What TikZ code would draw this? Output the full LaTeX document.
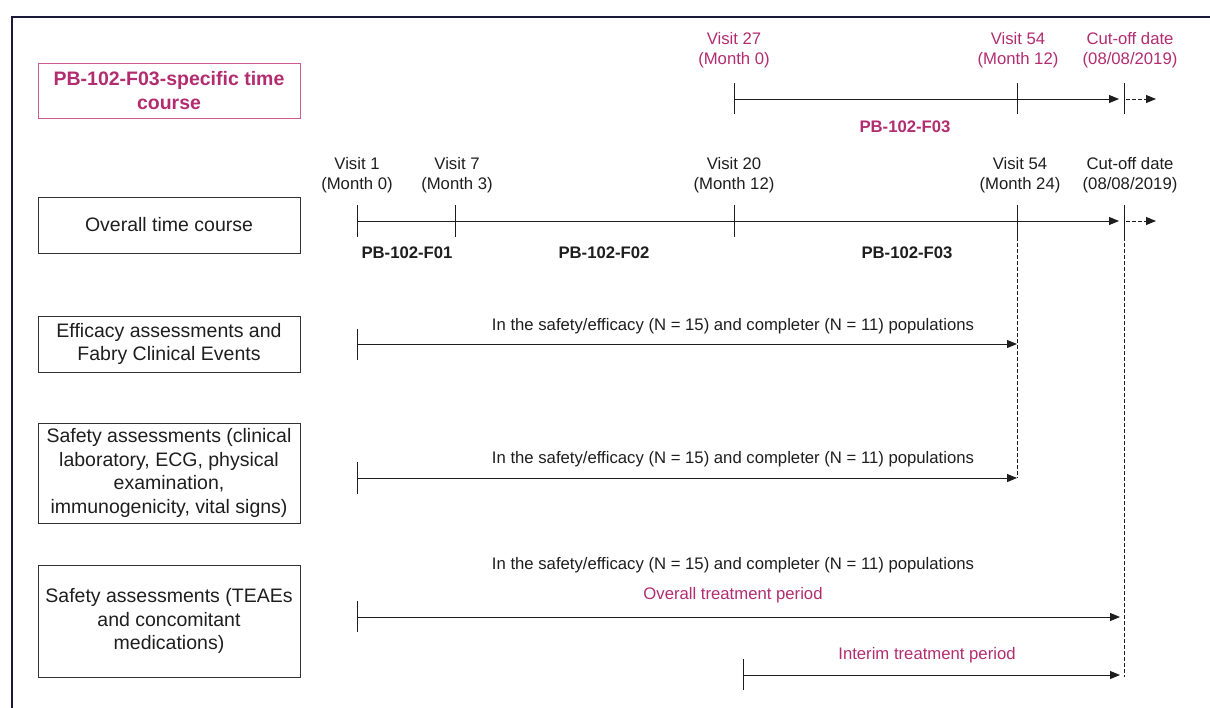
\documentclass[tikz,border=0pt]{standalone}
\usepackage{fontspec}
\setmainfont{Liberation Sans}
\usetikzlibrary{arrows.meta}
\definecolor{pinktxt}{RGB}{178,44,112}
\definecolor{pinkbox}{RGB}{205,90,145}
\definecolor{navy}{RGB}{25,25,60}
\definecolor{txt}{RGB}{30,30,30}
\definecolor{boxc}{RGB}{50,50,50}
\begin{document}
\begin{tikzpicture}[x=1pt,y=-1pt,
  lab/.style={font=\fontsize{16.7}{20}\selectfont, text=txt, align=center, inner sep=0},
  plab/.style={lab, text=pinktxt},
  blab/.style={lab, font=\fontsize{16.7}{20}\selectfont\bfseries},
  pblab/.style={blab, text=pinktxt},
  box/.style={draw=boxc, line width=1pt, minimum width=262pt, inner sep=0, align=center, font=\fontsize{19.5}{23.6}\selectfont, text=txt},
  ax/.style={line width=0.95pt, draw=txt},
  arr/.style={ax, -{Triangle[length=10pt,width=8pt]}},
  dsh/.style={ax, dash pattern=on 3.5pt off 2.5pt},
]
\useasboundingbox (0,0) rectangle (1210,707);
\draw[navy, line width=2pt] (12,712) -- (12,17) -- (1215,17);

% boxes
\node[box, draw=pinkbox, text=pinktxt, font=\fontsize{19.5}{23.6}\selectfont\bfseries, minimum height=55pt] (pbox) at (169,90.5) {PB-102-F03-specific time\\course};
\node[box, minimum height=56pt] (bover) at (169,225) {Overall time course};
\node[box, minimum height=56pt] (beff) at (169,344) {Efficacy assessments and\\Fabry Clinical Events};
\node[box, minimum height=100pt] (bsaf) at (169,473) {Safety assessments (clinical\\laboratory, ECG, physical\\examination,\\immunogenicity, vital signs)};
\node[box, minimum height=112pt] (bteae) at (169,621) {Safety assessments (TEAEs\\and concomitant\\medications)};

% top timeline
\coordinate (t27) at (734,99);
\coordinate (t54) at (1017,99);
\coordinate (tcut) at (1124,99);
\coordinate (tend) at (1156,99);
\draw[ax] (734,83) -- (734,114);
\draw[ax] (1017,83) -- (1017,114);
\draw[ax] (1124,83) -- (1124,114);
\draw[arr] (t27) -- ([xshift=-5pt]tcut);
\draw[dsh, -{Triangle[length=10pt,width=8pt]}] ([xshift=2pt]tcut) -- (tend);
\node[plab] (l27) at (734,50) {Visit 27\\(Month 0)};
\node[plab] (l54t) at (1018,50) {Visit 54\\(Month 12)};
\node[plab] (lcutt) at (1130,50) {Cut-off date\\(08/08/2019)};
\node[pblab] (f03t) at (905,127) {PB-102-F03};

% overall timeline
\coordinate (o1) at (357,221);
\coordinate (o7) at (455,221);
\coordinate (o20) at (734,221);
\coordinate (o54) at (1017,221);
\coordinate (ocut) at (1124,221);
\coordinate (oend) at (1156,221);
\foreach \x in {357,455,734,1017,1124} \draw[ax] (\x,205) -- (\x,237);
\draw[arr] (o1) -- ([xshift=-5pt]ocut);
\draw[dsh, -{Triangle[length=10pt,width=8pt]}] ([xshift=2pt]ocut) -- (oend);
\node[lab] (lv1) at (357,175) {Visit 1\\(Month 0)};
\node[lab] (lv7) at (457,175) {Visit 7\\(Month 3)};
\node[lab] (lv20) at (734,175) {Visit 20\\(Month 12)};
\node[lab] (lv54) at (1020,175) {Visit 54\\(Month 24)};
\node[lab] (lcut) at (1130,175) {Cut-off date\\(08/08/2019)};
\node[blab] (f01) at (407,253) {PB-102-F01};
\node[blab] (f02) at (604,253) {PB-102-F02};
\node[blab] (f03) at (907,253) {PB-102-F03};

% dashed verticals
\coordinate (d54) at (1017,478);
\coordinate (dcut) at (1124,677);
\draw[dsh] (1017,237) -- (d54);
\draw[dsh] (1124,237) -- (dcut);

% efficacy
\coordinate (e0) at (357,344);
\coordinate (e1) at (1017,344);
\draw[ax] (357,329) -- (357,360);
\draw[arr] (e0) -- (e1);
\node[lab] (le) at (733,326) {In the safety/efficacy (N = 15) and completer (N = 11) populations};

% safety
\coordinate (s0) at (357,478);
\coordinate (s1) at (1017,478);
\draw[ax] (357,462) -- (357,494);
\draw[arr] (s0) -- (s1);
\node[lab] (ls) at (733,459) {In the safety/efficacy (N = 15) and completer (N = 11) populations};

% TEAE
\node[lab] (lt) at (733,565) {In the safety/efficacy (N = 15) and completer (N = 11) populations};
\node[plab] (lover) at (733,595) {Overall treatment period};
\coordinate (a0) at (357,617);
\coordinate (a1) at (1120,617);
\draw[ax] (357,601) -- (357,632);
\draw[arr] (a0) -- (a1);
\coordinate (i0) at (743,675);
\coordinate (i1) at (1120,675);
\draw[ax] (743,659) -- (743,690);
\draw[arr] (i0) -- (i1);
\node[plab] (lint) at (927,655) {Interim treatment period};
\end{tikzpicture}
\end{document}
